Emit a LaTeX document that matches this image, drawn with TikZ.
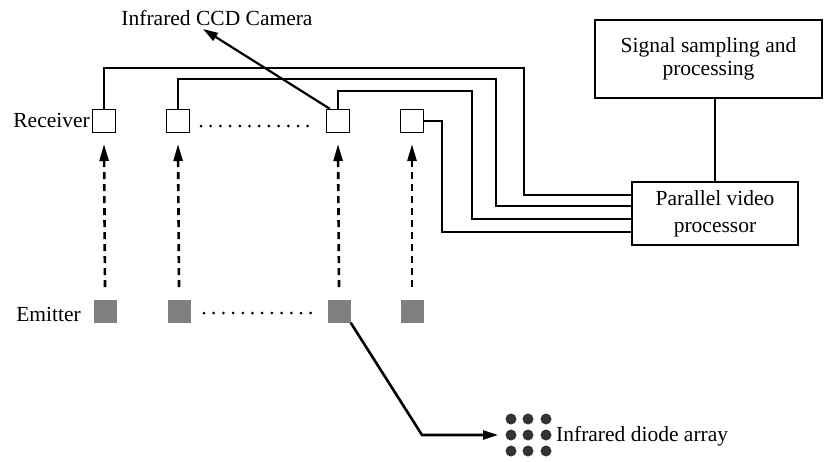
\documentclass[tikz,border=0pt]{standalone}
\usepackage{fontspec}
\setmainfont{Liberation Serif}
\usetikzlibrary{arrows.meta}
\begin{document}
\begin{tikzpicture}[x=1pt,y=-1pt,
  lbl/.style={font=\fontsize{21.5}{23}\selectfont, inner sep=0pt},
  recv/.style={draw, line width=1.4pt, minimum width=23pt, minimum height=23pt, inner sep=0pt},
  emit/.style={fill=black!50, minimum width=23pt, minimum height=23pt, inner sep=0pt},
  wire/.style={line width=1.5pt},
  bigbox/.style={draw, line width=2.8pt, inner sep=0pt, align=center},
  beam/.style={line width=2.6pt, dash pattern=on 7pt off 5pt, -{Triangle[length=17pt,width=9pt]}},
  pointer/.style={line width=2.2pt, -{Triangle[length=15pt,width=9pt]}},
  dots/.style={line width=3pt, line cap=round, dash pattern=on 0pt off 9.7pt},
  diode/.style={circle, fill=black!80, minimum size=11pt, inner sep=0pt}
]
\useasboundingbox (0,0) rectangle (824,461);

% receivers
\node[recv] (r1) at (104,121) {};
\node[recv] (r2) at (178,121) {};
\node[recv] (r3) at (338,121) {};
\node[recv] (r4) at (412,121) {};
% emitters
\node[emit] (e1) at (105,311) {};
\node[emit] (e2) at (179,311) {};
\node[emit] (e3) at (339,311) {};
\node[emit] (e4) at (412,311) {};

% labels
\node[lbl, anchor=base east] (lr) at (90,127) {Receiver};
\node[lbl, anchor=base east] (le) at (81,321) {Emitter};
\node[lbl, anchor=base] (lc) at (217,25) {Infrared CCD Camera};

% boxes
\node[bigbox, minimum width=227pt, minimum height=78pt,
  font=\fontsize{21.5}{23}\selectfont] (sig) at (708.5,59) {Signal sampling and\\processing};
\node[bigbox, minimum width=166pt, minimum height=63pt,
  font=\fontsize{21.5}{27}\selectfont] (pvp) at (715,213.5) {Parallel video\\processor};

% dotted rows
\coordinate (d1a) at (201,126); \coordinate (d1b) at (310,126);
\coordinate (d2a) at (204,313); \coordinate (d2b) at (313,313);
\draw[dots] (d1a) -- (d1b);
\draw[dots] (d2a) -- (d2b);

% beams
\draw[beam] (e1.north |- 0,287) -- (r1.south |- 0,144);
\draw[beam] (e2.north |- 0,287) -- (r2.south |- 0,144);
\draw[beam] (e3.north |- 0,287) -- (r3.south |- 0,144);
\draw[beam] (e4.north |- 0,287) -- (r4.south |- 0,144);

% wires
\draw[wire] (r1.north) -- (104,68) -- (524,68) -- (524,195) -- (pvp.west |- 0,195);
\draw[wire] (r2.north) -- (178,79) -- (496,79) -- (496,206) -- (pvp.west |- 0,206);
\draw[wire] (r3.north) -- (338,91) -- (472,91) -- (472,219) -- (pvp.west |- 0,219);
\draw[wire] (r4.east) -- (442,121) -- (442,232) -- (pvp.west |- 0,232);
\draw[wire] (pvp.north) -- (pvp.north |- sig.south);

% camera pointer
\coordinate (cam) at (203,29);
\draw[pointer] (r3.north west) ++(4,0) -- (cam);

% diode array
\node[diode] (p11) at (511,419) {};
\node[diode] (p12) at (528,419) {};
\node[diode] (p13) at (546,419) {};
\node[diode] (p21) at (511,435) {};
\node[diode] (p22) at (528,435) {};
\node[diode] (p23) at (546,435) {};
\node[diode] (p31) at (511,451) {};
\node[diode] (p32) at (528,451) {};
\node[diode] (p33) at (546,451) {};
\node[lbl, anchor=base west] (ld) at (556,441) {Infrared diode array};
\coordinate (bend) at (422,435);
\draw[pointer, line width=2.6pt] (e3.south east) -- (bend) -- (p21.west -| 498,0);
\end{tikzpicture}
\end{document}
